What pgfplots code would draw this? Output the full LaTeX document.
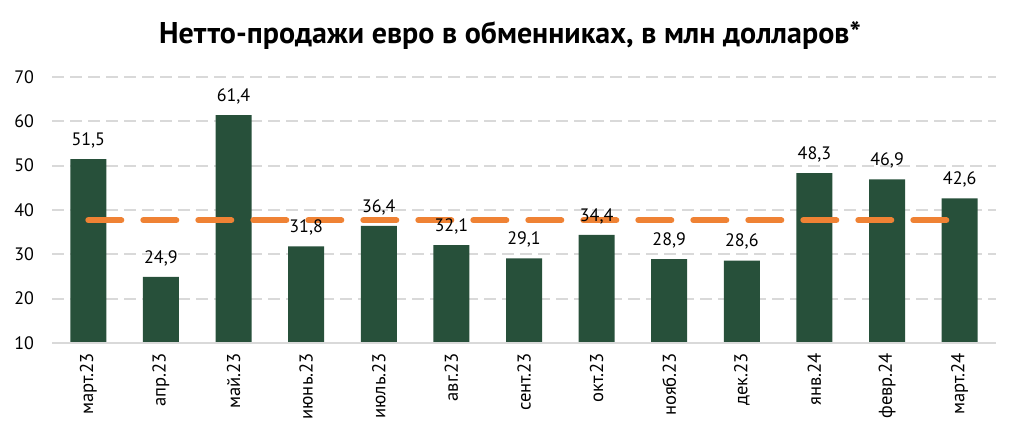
\documentclass[border=0pt]{standalone}
\usepackage{pgfplots}
\pgfplotsset{compat=1.18}
\usepackage{fontspec}
\setmainfont{PT Sans}
\definecolor{bargreen}{HTML}{27503A}
\definecolor{avgorange}{HTML}{EF8234}
\definecolor{gridgray}{HTML}{D9D9D9}
\begin{document}
\begin{tikzpicture}
\useasboundingbox (0,0) rectangle (508.5pt,220pt);
\node[anchor=base, font=\bfseries\fontsize{15}{17}\selectfont] at (255pt,198pt) {Нетто-продажи евро в обменниках, в млн долларов*};
\begin{axis}[
  at={(26pt,48.5pt)}, anchor=south west,
  scale only axis, width=472pt, height=133pt,
  xmin=-0.5, xmax=12.5, ymin=10, ymax=70,
  ytick={10,20,...,70},
  xtick={0,...,12},
  xticklabels={март.23,апр.23,май.23,июнь.23,июль.23,авг.23,сент.23,окт.23,нояб.23,дек.23,янв.24,февр.24,март.24},
  x tick label style={rotate=90, anchor=east, font=\fontsize{9.3}{10}\selectfont},
  y tick label style={font=\fontsize{9}{10}\selectfont},
  /pgf/number format/assume math mode=true,
  axis line style={draw=none},
  major tick length=0pt,
  ymajorgrids,
  grid style={gridgray, line width=0.9pt, dash pattern=on 6pt off 3pt},
  xticklabel shift=1.5pt,
  yticklabel shift=5.5pt,
  clip=false,
]
\addplot[ybar, bar width=18pt, fill=bargreen, draw=none,
  nodes near coords,
  nodes near coords style={font=\fontsize{9}{10}\selectfont, text=black, yshift=2pt,
    /pgf/number format/.cd, fixed, fixed zerofill, precision=1, use comma},
] coordinates {
(0,51.5) (1,24.9) (2,61.4) (3,31.8) (4,36.4) (5,32.1) (6,29.1) (7,34.4) (8,28.9) (9,28.6) (10,48.3) (11,46.9) (12,42.6)
};
\draw[gridgray, line width=1.2pt] (axis cs:-0.5,10) -- (axis cs:12.5,10);
\addplot[avgorange, line width=3pt, line cap=round, dash pattern=on 16.5pt off 11pt] coordinates {(0,37.7) (12,37.7)};
\end{axis}
\end{tikzpicture}
\end{document}
